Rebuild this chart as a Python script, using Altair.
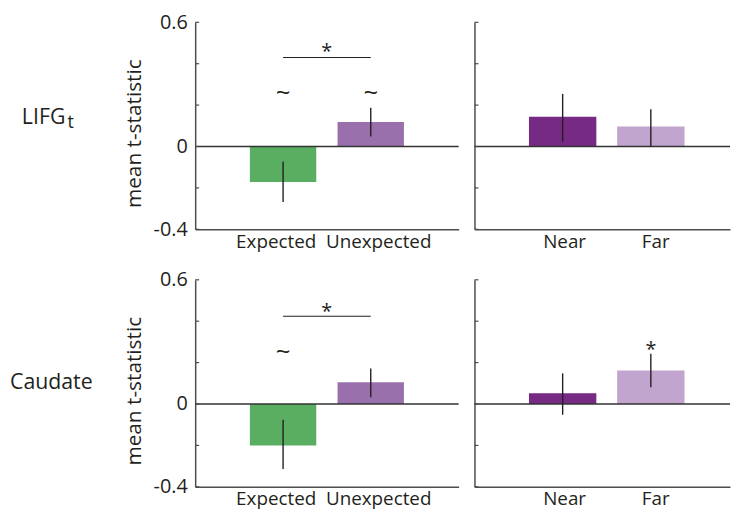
import altair as alt
import pandas as pd

# ---------------- data ----------------
cond_left = ["Expected", "Unexpected"]
cond_right = ["Near", "Far"]
colors_left = ["#5aae61", "#9970ab"]
colors_right = ["#762a83", "#c2a5cf"]

lifg_left_mean = [-0.172, 0.118]
lifg_left_lo = [-0.268, 0.048]
lifg_left_hi = [-0.072, 0.187]
lifg_right_mean = [0.144, 0.096]
lifg_right_lo = [0.024, 0.0]
lifg_right_hi = [0.254, 0.180]

caud_left_mean = [-0.200, 0.105]
caud_left_lo = [-0.314, 0.033]
caud_left_hi = [-0.076, 0.171]
caud_right_mean = [0.052, 0.162]
caud_right_lo = [-0.052, 0.081]
caud_right_hi = [0.148, 0.243]

y_ticks = [0.6, 0.4, 0.2, 0.0, -0.2, -0.4]
y_labels = [0.6, 0.0, -0.4]

# annotations: (condition, y, text)
lifg_left_marks = [("Expected", 0.258, "~"), ("Unexpected", 0.258, "~")]
caud_left_marks = [("Expected", 0.252, "~")]
caud_right_marks = [("Far", 0.262, "*")]
lifg_sig = {"y": 0.43, "star": 0.455}
caud_sig = {"y": 0.424, "star": 0.445}

FONT = "Open Sans"
TXT = "#231f20"
AX = "#4d4d4d"
W_LEFT, W_RIGHT, H = 266, 258, 209


def panel(cats, colors, means, los, his, left, marks=None, sig=None,
          row_label=None, row_pos=None, sub=None):
    df = pd.DataFrame({"cond": cats, "mean": means, "lo": los, "hi": his})
    if left:
        xscale = alt.Scale(domain=cats, paddingInner=0.243, paddingOuter=0.624)
        xaxis = alt.Axis(title=None, labelAngle=0, ticks=False, labelPadding=3,
                         labelOverlap=False,
                         labelOffset={"condition": {"test": "datum.value === 'Expected'", "value": -7},
                                      "value": 8})
        yaxis = alt.Axis(title="mean t-statistic", values=y_labels, ticks=False,
                         labelPadding=8, titlePadding=9, titleFontSize=21,
                         titleFontWeight="normal", titleColor=TXT, titleY=112,
                         labelFontSize=20,
                         labelExpr="datum.value == 0 ? '0' : (datum.value < 0 ? '-' + format(-datum.value, '.1f') : format(datum.value, '.1f'))")
    else:
        xscale = alt.Scale(domain=cats, paddingInner=0.236, paddingOuter=0.567, align=0.545)
        xaxis = alt.Axis(title=None, labelAngle=0, ticks=False, labelPadding=3,
                         labelOffset={"condition": {"test": "datum.value === 'Far'", "value": 5},
                                      "value": 2})
        yaxis = alt.Axis(title=None, labels=False, ticks=False, minExtent=0)
    yscale = alt.Scale(domain=[-0.4, 0.6], nice=False, zero=False)

    base = alt.Chart(df)
    bars = base.mark_bar().encode(
        x=alt.X("cond:N", sort=cats, scale=xscale, axis=xaxis),
        y=alt.Y("mean:Q", scale=yscale, axis=yaxis),
        color=alt.Color("cond:N", scale=alt.Scale(domain=cats, range=colors), legend=None),
    )
    err = base.mark_rule(color="#231f20", strokeWidth=1.4).encode(
        x=alt.X("cond:N", sort=cats), y="lo:Q", y2="hi:Q")
    zero = alt.Chart(pd.DataFrame({"z": [0.0]})).mark_rule(
        color="#333333", strokeWidth=1.5).encode(y="z:Q")
    ticks = alt.Chart(pd.DataFrame({"t": y_ticks})).mark_rule(
        color=AX, strokeWidth=1.2).encode(y="t:Q", x=alt.value(0), x2=alt.value(4))
    layers = [bars, zero, err, ticks]
    if marks:
        mdf = pd.DataFrame(marks, columns=["cond", "y", "txt"])
        layers.append(alt.Chart(mdf).mark_text(fontSize=24, font=FONT, color=TXT,
                                               baseline="middle").encode(
            x=alt.X("cond:N", sort=cats), y="y:Q", text="txt:N",
            size=alt.condition("datum.txt === '*'", alt.value(20), alt.value(26))))
    if sig:
        sdf = pd.DataFrame({"a": [cats[0]], "b": [cats[1]], "y": [sig["y"]], "s": [sig["star"]]})
        layers.append(alt.Chart(sdf).mark_rule(color="#231f20", strokeWidth=1.2).encode(
            x=alt.X("a:N", sort=cats, bandPosition=0.5), x2=alt.X2("b:N"), y="y:Q"))
        layers.append(alt.Chart(sdf).mark_text(text="*", fontSize=20, font=FONT, color=TXT,
                                               baseline="middle", dx=44).encode(
            x=alt.X("a:N", sort=cats), y="s:Q"))
    if row_label:
        lab = alt.Chart(pd.DataFrame({"r": [row_label]})).mark_text(
            align="left", baseline="alphabetic", fontSize=21.5, font=FONT, color=TXT).encode(
            x=alt.value(row_pos[0]), y=alt.value(row_pos[1]), text="r:N")
        layers.append(lab)
        if sub:
            sl = alt.Chart(pd.DataFrame({"r": [sub]})).mark_text(
                align="left", baseline="alphabetic", fontSize=18, font=FONT, color=TXT).encode(
                x=alt.value(row_pos[0] + 46), y=alt.value(row_pos[1] + 4), text="r:N")
            layers.append(sl)
    return alt.layer(*layers).properties(width=W_LEFT if left else W_RIGHT, height=H)


p1 = panel(cond_left, colors_left, lifg_left_mean, lifg_left_lo, lifg_left_hi, True,
           marks=lifg_left_marks, sig=lifg_sig, row_label="LIFG", row_pos=(-175, 103), sub="t")
p2 = panel(cond_right, colors_right, lifg_right_mean, lifg_right_lo, lifg_right_hi, False)
p3 = panel(cond_left, colors_left, caud_left_mean, caud_left_lo, caud_left_hi, True,
           marks=caud_left_marks, sig=caud_sig, row_label="Caudate", row_pos=(-187, 110))
p4 = panel(cond_right, colors_right, caud_right_mean, caud_right_lo, caud_right_hi, False,
           marks=caud_right_marks)

chart = alt.concat(p1, p2, p3, p4, columns=2, spacing={"row": 51, "column": 16},
                   bounds="flush").resolve_scale(color="independent", x="independent").properties(
    padding={"left": 2, "top": 2, "right": 0, "bottom": 0}
).configure_view(stroke=None).configure_axis(
    labelFont=FONT, titleFont=FONT, labelFontSize=19, labelColor=TXT,
    domainColor=AX, domainWidth=1.5, grid=False
)

chart.save("out.html", embed_options={"renderer": "svg", "actions": False})
